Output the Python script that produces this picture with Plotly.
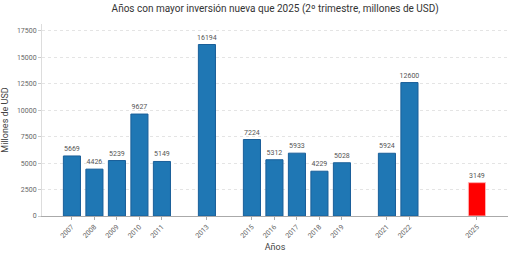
import plotly.graph_objects as go

years = [2007, 2008, 2009, 2010, 2011, 2013, 2015, 2016, 2017, 2018, 2019, 2021, 2022, 2025]
values = [5669, 4426, 5239, 9627, 5149, 16194, 7224, 5312, 5933, 4229, 5028, 5924, 12600, 3149]
colors = ["#1f77b4"] * 13 + ["#ff0000"]
edges = ["#1a5f99"] * 13 + ["#ffb0b0"]
yticks = [0, 2500, 5000, 7500, 10000, 12500, 15000, 17500]

fig = go.Figure(go.Bar(
    x=years, y=values, width=0.76,
    marker=dict(color=colors, line=dict(color=edges, width=1)),
    text=[str(v) for v in values], textposition="outside", constraintext="none",
    textfont=dict(size=7, color="#555555"), cliponaxis=False,
))
fig.update_layout(
    width=512, height=254,
    margin=dict(l=42, r=4, t=24, b=38),
    paper_bgcolor="white", plot_bgcolor="white",
    font=dict(family="Roboto", color="#444444"),
    title=dict(text="Años con mayor inversión nueva que 2025 (2º trimestre, millones de USD)",
               x=0.5375, xanchor="center", y=0.965, yanchor="middle",
               font=dict(size=10, color="#333333")),
    showlegend=False,
)
fig.update_xaxes(
    range=[2005.67, 2026.38], tickmode="array", tickvals=years,
    ticktext=[str(y) for y in years], tickangle=-45,
    tickfont=dict(size=7, color="#666666"), ticks="outside", ticklen=3,
    tickcolor="#aaaaaa", showline=True, linecolor="#aaaaaa", linewidth=1,
    showgrid=False, zeroline=False,
    title=dict(text="Años", font=dict(size=9, color="#444444"), standoff=4),
)
fig.update_yaxes(
    range=[0, 18130], tickmode="array", tickvals=yticks,
    ticktext=[str(t) for t in yticks],
    tickfont=dict(size=7, color="#666666"), ticks="outside", ticklen=3,
    tickcolor="#cccccc", showline=True, linecolor="#dddddd", linewidth=1,
    showgrid=True, gridcolor="#e4e4e4", griddash="dot", gridwidth=1,
    zeroline=False,
    title=dict(text="Millones de USD", font=dict(size=9, color="#444444"), standoff=6),
)
fig.write_html("out.html")
